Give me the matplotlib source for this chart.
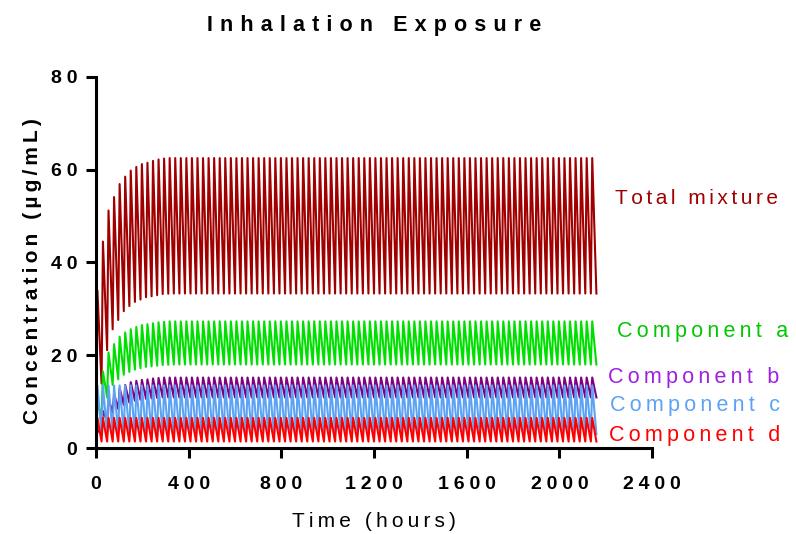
import numpy as np
import matplotlib
matplotlib.use("Agg")
import matplotlib.pyplot as plt

plt.rcParams['font.family'] = ['Liberation Sans', 'DejaVu Sans']

# dosing schedule: one exposure per day for 90 days
dose_interval = 24      # hours
n_doses = 90
peak_offset = 6         # hours after dose start when the peak is reached

# per-dose peak / trough concentrations (ug/mL); last value holds at steady state
a_peak = [10.0, 16.5, 20.6, 22.4, 24.0, 24.9, 25.6, 26.1, 26.5, 26.7, 26.9, 27.1, 27.2, 27.3]
a_trough = [6.6, 10.9, 13.6, 14.8, 15.8, 16.4, 16.9, 17.2, 17.5, 17.6, 17.75, 17.9, 17.95, 18.0]
b_peak = [4.0, 8.0, 10.6, 11.7, 12.9, 13.6, 14.2, 14.5, 14.7, 14.8, 15.0, 15.1, 15.2]
b_trough = [2.9, 5.8, 7.6, 8.4, 9.3, 9.8, 10.2, 10.4, 10.6, 10.7, 10.8, 10.9, 10.9]
c_peak = [13.5]
c_trough = [3.0]
d_peak = [6.5]
d_trough = [1.4]

xticks = [0, 400, 800, 1200, 1600, 2000, 2400]
yticks = [0, 20, 40, 60, 80]

labels = ["Total mixture", "Component a", "Component b", "Component c", "Component d"]
line_colors = ["#A00000", "#00E000", "#800080", "#5CA3F5", "#FF0000"]
label_colors = ["#A00000", "#00C800", "#A020E0", "#5CA3F5", "#FF0000"]

# letter-spacing fillers (fractions of an em)
THIN = "\u2009"      # ~0.20 em
SIXTH = "\u2006"     # ~0.17 em
QUARTER = "\u2005"   # ~0.25 em
THIRD = "\u2004"     # ~0.33 em


def pad(vals):
    return np.array(vals + [vals[-1]] * (n_doses - len(vals)), dtype=float)


def profile(peaks, troughs):
    t, c = [0.0], [0.0]
    for k in range(n_doses):
        t0 = k * dose_interval
        t += [t0 + peak_offset, t0 + dose_interval]
        c += [peaks[k], troughs[k]]
    return np.array(t), np.array(c)


def spaced(s, sep=THIN):
    return sep.join(s)


comps = []
for pk, tr in [(a_peak, a_trough), (b_peak, b_trough), (c_peak, c_trough), (d_peak, d_trough)]:
    comps.append(profile(pad(pk), pad(tr)))

t = comps[0][0]
total = sum(c for _, c in comps)
series = [total] + [c for _, c in comps]

fig = plt.figure(figsize=(7.96, 5.34), dpi=100)
ax = fig.add_axes([0.1206, 0.161, 0.6985, 0.695])

for y, col in zip(series, line_colors):
    ax.plot(t, y, color=col, lw=1.5, clip_on=False)

ax.set_xlim(0, 2400)
ax.set_ylim(0, 80)
ax.set_xticks(xticks)
ax.set_yticks(yticks)
ax.set_xticklabels([spaced(str(v), QUARTER) for v in xticks], fontweight='bold', fontsize=14)
ax.set_yticklabels([spaced(str(v), QUARTER) for v in yticks], fontweight='bold', fontsize=14)
ax.tick_params(axis='both', direction='out', length=7.5, width=2.2, color='black')
ax.tick_params(axis='x', pad=13)
ax.tick_params(axis='y', pad=6)

for side in ['top', 'right']:
    ax.spines[side].set_visible(False)
for side in ['left', 'bottom']:
    ax.spines[side].set_linewidth(2.2)

ax.set_title(spaced("Inhalation Exposure", THIRD), fontsize=15.5, fontweight='bold', pad=33)
ax.set_xlabel(spaced("Time (hours)"), fontsize=15, labelpad=13)
ax.set_ylabel(spaced("Concentration (µg/mL)"), fontsize=15, fontweight='bold')
ax.yaxis.set_label_coords(-0.098, 0.476)

# series labels to the right of the curves
label_pos = [(615, 199), (617, 331), (608, 378), (610, 405), (609, 436)]
label_seps = [SIXTH, THIN, THIN, THIN, THIN]
label_sizes = [15, 15.5, 15.5, 15.5, 15.5]
for text, col, (px, py), sep, fs in zip(labels, label_colors, label_pos, label_seps, label_sizes):
    fig.text(px / 796, 1 - py / 534, spaced(text, sep), color=col, fontsize=fs,
             ha='left', va='center')

fig.savefig("out.png", dpi=100)
